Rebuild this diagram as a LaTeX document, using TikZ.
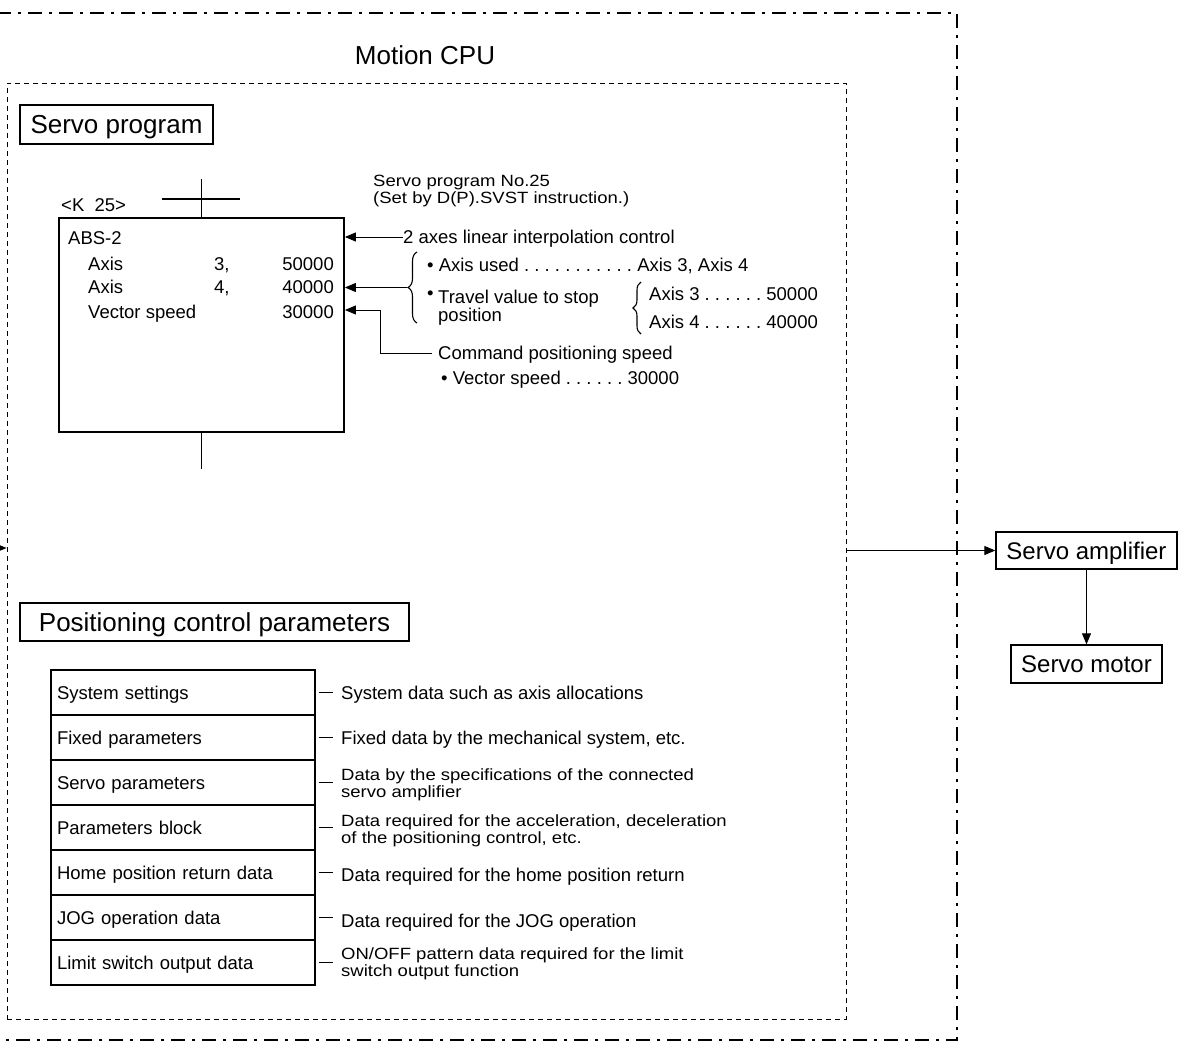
\documentclass[tikz,border=0pt]{standalone}
\usepackage{fontspec}
\setmainfont{Liberation Sans}
\usepackage{graphicx}
\usetikzlibrary{arrows.meta,decorations.pathreplacing}
\frenchspacing
\newcommand\bodyf{\fontsize{18.5}{19.5}\selectfont}
\newcommand\sqf{\fontsize{18.5}{18.2}\selectfont}
\newcommand\bigf{\fontsize{26}{30}\selectfont}
\newcommand\midf{\fontsize{24}{28}\selectfont}
\newcommand\sqz[2]{\scalebox{1}[0.88]{\sqf\begin{tabular}{@{}l@{}}#1\\#2\end{tabular}}}
\begin{document}
\begin{tikzpicture}[x=1pt,y=-1pt,
 tx/.style={inner sep=0pt, anchor=west, text height=13.3pt, text depth=0pt, font=\bodyf},
 txr/.style={tx, anchor=east},
 tx2/.style={inner sep=0pt, anchor=west, font=\bodyf},
 title/.style={draw, line width=1.3pt, inner sep=0pt, font=\bigf, text height=18.6pt, text depth=0pt},
 unit/.style={draw, line width=1.3pt, inner sep=0pt, font=\midf, text height=17.2pt, text depth=0pt},
 prow/.style={draw, line width=1.2pt, minimum width=264pt, minimum height=45pt, inner sep=0pt, font=\bodyf, text height=13.3pt, text depth=0pt, text width=252pt, align=left},
 arr/.style={-{Triangle[length=11pt,width=9pt]}, line width=0.9pt},
 thin/.style={line width=0.9pt},
]
\useasboundingbox (0,0) rectangle (1179,1052);

% outer Motion CPU frame (dash-dot)
\draw[line width=2.6pt, dash pattern=on 14pt off 7pt on 3pt off 7pt] (-3,13) -- (957,13) -- (957,1040) -- (-3,1040);
\node[font=\bigf, inner sep=0pt] (mcpu) at (425,55) {Motion CPU};

% inner dashed frame
\node[draw, line width=1pt, dash pattern=on 5pt off 4pt, minimum width=839pt, minimum height=936pt, inner sep=0pt] (cpu) at (426.5,551) {};

% left incoming arrow
\coordinate (lin) at (-10,548);
\draw[arr] (lin) -- (cpu.west |- lin);

% Servo program
\node[title, minimum width=193pt, minimum height=39pt] (sp) at (116.5,124.5) {Servo program};

\node[draw, line width=1.8pt, minimum width=285pt, minimum height=214pt, inner sep=0pt] (prog) at (201.5,325) {};
\draw[line width=1.5pt] (prog.north) -- ++(0,-38);
\draw[line width=1.5pt] (162,199) -- (240,199);
\draw[line width=1.5pt] (prog.south) -- ++(0,36);

\node[tx] (k25) at (61,205) {<K\ \ 25>};
\node[tx] (abs) at (68,238) {ABS-2};
\node[tx] (ax1) at (88,264) {Axis};
\node[tx] (ax1n) at (214,264) {3,};
\node[txr] (ax1v) at (334,264) {50000};
\node[tx] (ax2) at (88,287) {Axis};
\node[tx] (ax2n) at (214,287) {4,};
\node[txr] (ax2v) at (334,287) {40000};
\node[tx] (vsp) at (88,312) {Vector speed};
\node[txr] (vspv) at (334,312) {30000};

\node[tx2] (spn) at (373,192) {\sqz{Servo program No.25}{(Set by D(P).SVST instruction.)}};

\node[tx] (lin2) at (403,237) {2 axes linear interpolation control};
\draw[arr] (lin2.west) -- (lin2.west -| prog.east);

\draw[line width=1.1pt, decorate, decoration={brace, amplitude=9pt}] (417,323) -- (417,252);
\coordinate (b1) at (407,287.5);
\draw[arr] (b1) -- (b1 -| prog.east);

\node[tx] (au) at (427,265) {\textbullet\ Axis used . . . . . . . . . . . Axis 3, Axis 4};
\node[tx] (tb) at (427,293) {\textbullet};
\node[tx] (tv) at (438,297) {Travel value to stop};
\node[tx] (tp) at (438,315) {position};

\draw[line width=1.1pt, decorate, decoration={brace, amplitude=8pt}] (641,334) -- (641,282);
\node[tx] (a3) at (649,294) {Axis 3 . . . . . . 50000};
\node[tx] (a4) at (649,322) {Axis 4 . . . . . . 40000};

\node[tx] (cmd) at (438,353) {Command positioning speed};
\coordinate (v30) at (380,310);
\draw[arr] ([xshift=-6pt]cmd.west) -| (v30) -- (v30 -| prog.east);
\node[tx] (vs) at (441,378) {\textbullet\ Vector speed . . . . . . 30000};

% Positioning control parameters
\node[title, minimum width=389pt, minimum height=38pt] (pcp) at (214.5,622) {Positioning control parameters};

\node[prow] (r1) at (183,692.5) {System settings};
\node[prow] (r2) at (183,737.5) {Fixed parameters};
\node[prow] (r3) at (183,782.5) {Servo parameters};
\node[prow] (r4) at (183,827.5) {Parameters block};
\node[prow] (r5) at (183,872.5) {Home position return data};
\node[prow] (r6) at (183,917.5) {JOG operation data};
\node[prow] (r7) at (183,962.5) {Limit switch output data};

\node[tx] (d1) at (341,693) {System data such as axis allocations};
\node[tx] (d2) at (341,738) {Fixed data by the mechanical system, etc.};
\node[tx2] (d3) at (341,785.5) {\sqz{Data by the specifications of the connected}{servo amplifier}};
\node[tx2] (d4) at (341,831.5) {\sqz{Data required for the acceleration, deceleration}{of the positioning control, etc.}};
\node[tx] (d5) at (341,875) {Data required for the home position return};
\node[tx] (d6) at (341,921) {Data required for the JOG operation};
\node[tx2] (d7) at (341,964.5) {\sqz{ON/OFF pattern data required for the limit}{switch output function}};

\foreach \i in {1,...,7}{
  \draw[thin, shorten <=3pt, shorten >=8pt] (r\i.east) -- (r\i.east -| d\i.west);
}

% Servo amplifier and motor
\node[unit, minimum width=181pt, minimum height=37pt] (amp) at (1086.5,550.5) {Servo amplifier};
\node[unit, minimum width=151pt, minimum height=38pt] (mot) at (1086.5,664) {Servo motor};
\draw[arr] (cpu.east |- amp.west) -- (amp.west);
\draw[arr] (amp.south) -- (mot.north);
\end{tikzpicture}
\end{document}
